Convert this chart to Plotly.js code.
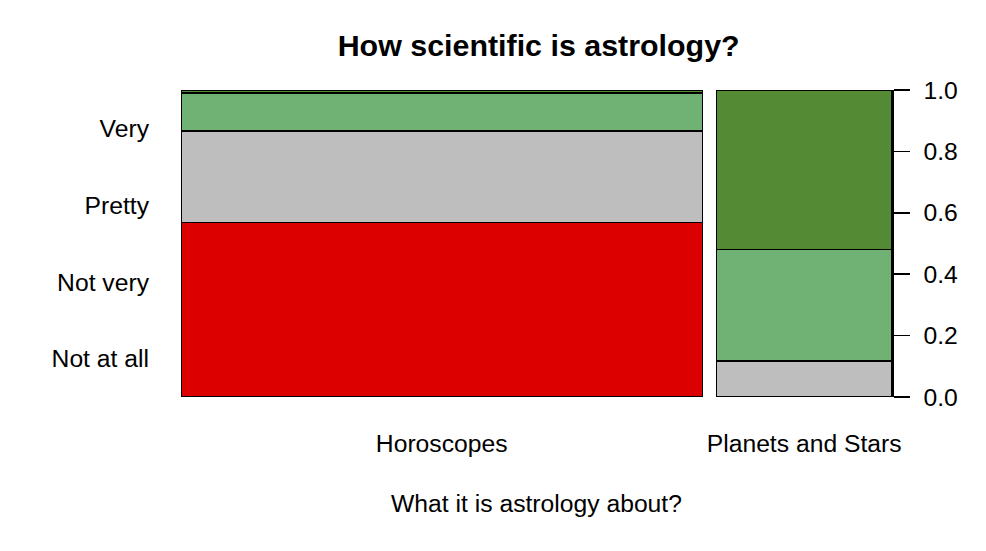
<!DOCTYPE html>
<html>
<head>
<meta charset="utf-8">
<script src="https://cdn.plot.ly/plotly-3.0.1.min.js"></script>
<style>html,body{margin:0;padding:0;background:#fff;}#chart{width:986px;height:551px;}</style>
</head>
<body>
<div id="chart"></div>
<script>
// Data
const categories = ["Horoscopes", "Planets and Stars"];
const groupShare = [0.748, 0.252];           // width share of each x group
const levels = ["Not at all", "Not very", "Pretty", "Very"];
const notAtAll = [0.568, 0.000];
const notVery  = [0.298, 0.118];
const pretty   = [0.124, 0.362];
const very     = [0.010, 0.520];
const yTicks = [0, 0.2, 0.4, 0.6, 0.8, 1.0];

const colors = ["#DD0000", "#BEBEBE", "#6FB274", "#548A33"];
const gap = 0.02;

// x positions from shares
const centers = [];
let cursor = 0;
groupShare.forEach((w, i) => {
  centers.push(cursor + w / 2);
  cursor += w + gap;
});
const xMax = cursor - gap;

const series = [notAtAll, notVery, pretty, very];
const traces = series.map((vals, k) => ({
  type: "bar",
  x: centers,
  y: vals,
  width: groupShare,
  name: levels[k],
  marker: { color: colors[k], line: { color: "#000", width: 1.5 } },
  hoverinfo: "skip",
  showlegend: false
}));

// left-side level labels placed evenly
const levelPos = levels.map((_, i) => (i + 0.5) / levels.length);
traces.push({
  type: "scatter", x: [0], y: [0.5], yaxis: "y2",
  mode: "markers", marker: { opacity: 0 }, showlegend: false, hoverinfo: "skip"
});

const font = { family: "Liberation Sans, Arial, Helvetica, sans-serif", color: "#000", size: 24.7 };

const layout = {
  width: 986, height: 551,
  margin: { l: 180.5, r: 93.5, t: 90.3, b: 153.7, pad: 0 },
  paper_bgcolor: "#fff", plot_bgcolor: "#fff",
  font: font,
  barmode: "stack",
  bargap: 0,
  title: {
    text: "<b>How scientific is astrology?</b>",
    font: { family: font.family, size: 30.4, color: "#000" },
    xref: "paper", x: 0.503, xanchor: "center",
    yref: "container", y: 0.918, yanchor: "middle"
  },
  xaxis: {
    range: [0, xMax], showgrid: false, zeroline: false, showline: false,
    tickmode: "array", tickvals: centers, ticktext: categories,
    ticks: "", ticklabelstandoff: 29,
    tickfont: font,
    title: { text: "What it is astrology about?", font: font, standoff: 39 },
    fixedrange: true
  },
  yaxis: {
    range: [0, 1], side: "right", showgrid: false, zeroline: false,
    showline: true, linecolor: "#000", linewidth: 1.5,
    tickmode: "array", tickvals: yTicks, ticktext: yTicks.map(v => v.toFixed(1)),
    ticks: "outside", ticklen: 16, tickwidth: 1.5, tickcolor: "#000",
    ticklabelstandoff: 9,
    tickfont: font, fixedrange: true
  },
  yaxis2: {
    range: [0, 1], overlaying: "y", side: "left", showgrid: false, zeroline: false,
    showline: false, tickmode: "array", tickvals: levelPos, ticktext: levels,
    ticks: "", ticklabelstandoff: 31, tickfont: font, fixedrange: true
  }
};

Plotly.newPlot("chart", traces, layout, { displayModeBar: false, staticPlot: true });
</script>
</body>
</html>
